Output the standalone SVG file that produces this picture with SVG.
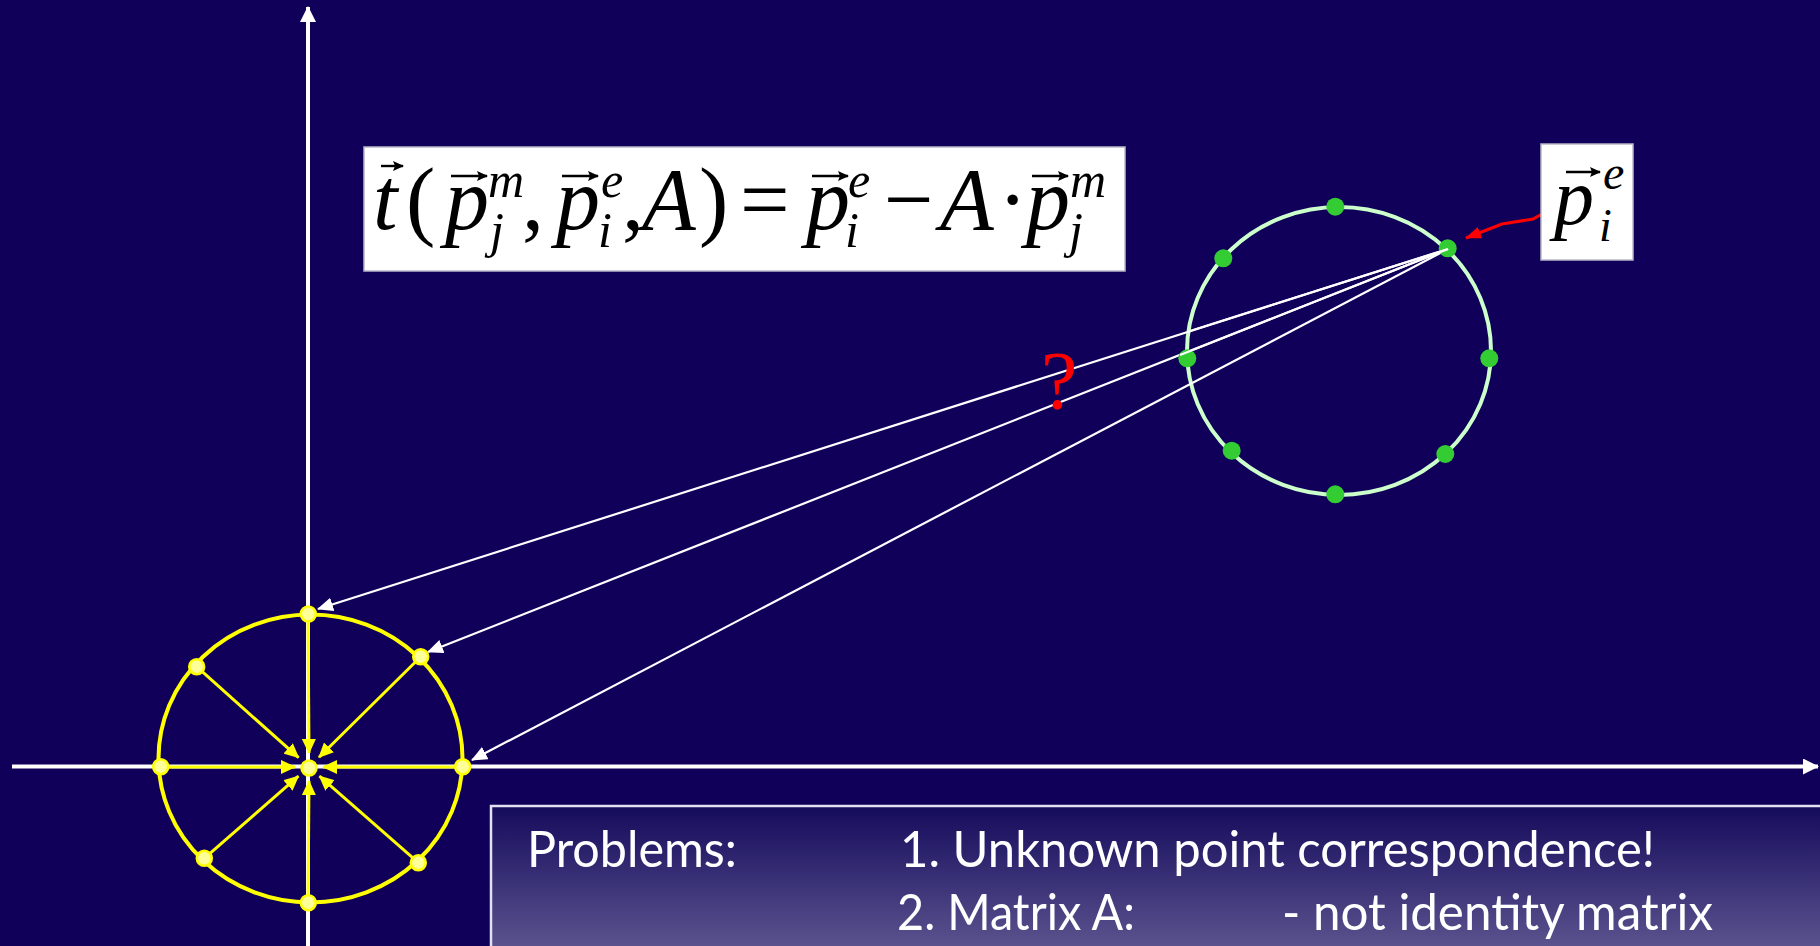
<svg xmlns="http://www.w3.org/2000/svg" width="1820" height="946" viewBox="0 0 1820 946">
<defs>
<style>
.axis{stroke:#ffffff;stroke-width:4;fill:none}
.wline{stroke:#ffffff;stroke-width:2.2;fill:none}
.yline{stroke:#ffff00;stroke-width:3;fill:none}
.ydot{fill:#ffff99;stroke:#ffff00;stroke-width:2.5}
.gdot{fill:#33cc33}
.math{font-family:"Liberation Serif","Times New Roman",serif;font-style:italic;fill:#000}
.up{font-style:normal}
.vec{stroke:#000;stroke-width:2.4;fill:none}
.prob{font-family:Lato,"Noto Sans",sans-serif;font-size:50px;fill:#ffffff}
</style>
<linearGradient id="boxgrad" x1="0" y1="0" x2="0" y2="1">
<stop offset="0" stop-color="#150b5c"/>
<stop offset="1" stop-color="#5c558f"/>
</linearGradient>
<marker id="axhead" viewBox="0 0 16 16" refX="15" refY="8" markerWidth="16" markerHeight="16" markerUnits="userSpaceOnUse" orient="auto">
<path d="M0,0 L16,8 L0,16 z" fill="#ffffff"/>
</marker>
<marker id="whead" viewBox="0 0 16 14" refX="15" refY="7" markerWidth="16" markerHeight="14" markerUnits="userSpaceOnUse" orient="auto">
<path d="M0,0 L16,7 L0,14 z" fill="#ffffff"/>
</marker>
<marker id="yhead" viewBox="0 0 15 14" refX="14" refY="7" markerWidth="15" markerHeight="14" markerUnits="userSpaceOnUse" orient="auto">
<path d="M0,0 L15,7 L0,14 z" fill="#ffff00"/>
</marker>
<marker id="rhead" viewBox="0 0 16 12" refX="15" refY="6" markerWidth="16" markerHeight="12" markerUnits="userSpaceOnUse" orient="auto">
<path d="M0,0 L16,6 L0,12 z" fill="#ff0000"/>
</marker>
<marker id="vhead" viewBox="0 0 11 10" refX="10" refY="5" markerWidth="11" markerHeight="10" markerUnits="userSpaceOnUse" orient="auto">
<path d="M0,0 L11,5 L0,10 L2,5 z" fill="#000"/>
</marker>
</defs>

<rect x="0" y="0" width="1820" height="946" fill="#10005a"/>

<g id="problems-box">
<rect x="491" y="806" width="1335" height="145" fill="url(#boxgrad)" stroke="#e0e0ee" stroke-width="2.5"/>
<text class="prob" x="527" y="867" textLength="210" lengthAdjust="spacingAndGlyphs">Problems:</text>
<text class="prob" x="900" y="867" textLength="755" lengthAdjust="spacingAndGlyphs">1. Unknown point correspondence!</text>
<text class="prob" x="897" y="930" textLength="238" lengthAdjust="spacingAndGlyphs">2. Matrix A:</text>
<text class="prob" x="1282" y="930" textLength="431" lengthAdjust="spacingAndGlyphs">- not identity matrix</text>
</g>

<g id="axes">
<line class="axis" x1="308" y1="946" x2="308" y2="7" marker-end="url(#axhead)"/>
<line class="axis" x1="12" y1="766.5" x2="1818" y2="766.5" marker-end="url(#axhead)"/>
</g>

<g id="model-circle">
<ellipse cx="1339" cy="351" rx="152" ry="144" fill="none" stroke="#ccffcc" stroke-width="4"/>
</g>

<g id="scene-circle">
<ellipse cx="310.5" cy="758.5" rx="152" ry="144" fill="none" stroke="#ffff00" stroke-width="4"/>
</g>

<g id="connectors">
<line class="wline" x1="1448" y1="249" x2="318" y2="609" marker-end="url(#whead)"/>
<line class="wline" x1="1448" y1="249" x2="428" y2="652" marker-end="url(#whead)"/>
<line class="wline" x1="1448" y1="249" x2="472" y2="760" marker-end="url(#whead)"/>
<line class="yline" x1="308" y1="614" x2="309" y2="753" marker-end="url(#yhead)"/>
<line class="yline" x1="308" y1="903" x2="309" y2="781" marker-end="url(#yhead)"/>
<line class="yline" x1="159" y1="767" x2="295" y2="767" marker-end="url(#yhead)"/>
<line class="yline" x1="462.5" y1="767" x2="323" y2="767" marker-end="url(#yhead)"/>
<line class="yline" x1="196.7" y1="666.7" x2="298.6" y2="757.7" marker-end="url(#yhead)"/>
<line class="yline" x1="420.7" y1="656.7" x2="319" y2="757.2" marker-end="url(#yhead)"/>
<line class="yline" x1="204.3" y1="858.3" x2="298.4" y2="776.2" marker-end="url(#yhead)"/>
<line class="yline" x1="418.3" y1="862.7" x2="319.5" y2="776.2" marker-end="url(#yhead)"/>
<polyline points="1551,209 1533,219 1502,224 1466,238" fill="none" stroke="#ff0000" stroke-width="3" marker-end="url(#rhead)"/>
</g>

<g id="model-points">
<circle class="gdot" cx="1335.3" cy="206.7" r="9"/>
<circle class="gdot" cx="1223.3" cy="258.3" r="9"/>
<circle class="gdot" cx="1447.7" cy="248.3" r="9"/>
<circle class="gdot" cx="1187.3" cy="358.3" r="9"/>
<circle class="gdot" cx="1489.3" cy="358.3" r="9"/>
<circle class="gdot" cx="1231.7" cy="450.7" r="9"/>
<circle class="gdot" cx="1445.3" cy="454" r="9"/>
<circle class="gdot" cx="1335.3" cy="494.3" r="9"/>
</g>

<g id="white-lines-over">
<line class="wline" x1="1448" y1="249" x2="1190" y2="331"/>
<line class="wline" x1="1448" y1="249" x2="1180" y2="355"/>
</g>

<g id="scene-points">
<circle class="ydot" cx="308.3" cy="614" r="7.5"/>
<circle class="ydot" cx="308.3" cy="902.7" r="7.5"/>
<circle class="ydot" cx="160.7" cy="766.7" r="7.5"/>
<circle class="ydot" cx="462.7" cy="766.7" r="7.5"/>
<circle class="ydot" cx="196.7" cy="666.7" r="7.5"/>
<circle class="ydot" cx="420.7" cy="656.7" r="7.5"/>
<circle class="ydot" cx="204.3" cy="858.3" r="7.5"/>
<circle class="ydot" cx="418.3" cy="862.7" r="7.5"/>
<circle class="ydot" cx="309" cy="768" r="7.5"/>
</g>

<g id="formula">
<rect x="364" y="147" width="761" height="124" fill="#ffffff" stroke="#b8b8c8" stroke-width="1.5"/>
<text class="math" font-size="88">
<tspan x="373" y="229">t</tspan>
<tspan class="up" x="406" y="229">(</tspan>
<tspan x="445" y="229">p</tspan>
<tspan x="488" y="197" font-size="50">m</tspan>
<tspan x="490" y="247" font-size="50">j</tspan>
<tspan x="522" y="229" class="up">,</tspan>
<tspan x="556" y="229">p</tspan>
<tspan x="601" y="197" font-size="50">e</tspan>
<tspan x="598" y="247" font-size="50">i</tspan>
<tspan x="622" y="229" class="up">,</tspan>
<tspan x="642" y="229">A</tspan>
<tspan class="up" x="699" y="229">)</tspan>
<tspan class="up" x="740" y="229">=</tspan>
<tspan x="806" y="229">p</tspan>
<tspan x="848" y="197" font-size="50">e</tspan>
<tspan x="845" y="247" font-size="50">i</tspan>
<tspan class="up" x="884" y="229">−</tspan>
<tspan x="940" y="229">A</tspan>
<tspan class="up" x="998" y="229">·</tspan>
<tspan x="1026" y="229">p</tspan>
<tspan x="1070" y="197" font-size="50">m</tspan>
<tspan x="1069" y="247" font-size="50">j</tspan>
</text>
<line class="vec" x1="381" y1="166" x2="403" y2="166" marker-end="url(#vhead)"/>
<line class="vec" x1="451" y1="176" x2="487" y2="176" marker-end="url(#vhead)"/>
<line class="vec" x1="562" y1="176" x2="598" y2="176" marker-end="url(#vhead)"/>
<line class="vec" x1="812" y1="176" x2="848" y2="176" marker-end="url(#vhead)"/>
<line class="vec" x1="1032" y1="176" x2="1068" y2="176" marker-end="url(#vhead)"/>
</g>

<g id="pie-label">
<rect x="1541" y="144" width="92" height="116" fill="#ffffff" stroke="#b8b8c8" stroke-width="1.5"/>
<text class="math" font-size="80"><tspan x="1554" y="224">p</tspan><tspan x="1603" y="189" font-size="48">e</tspan><tspan x="1599" y="241" font-size="46">i</tspan></text>
<line class="vec" x1="1566" y1="172" x2="1600" y2="172" marker-end="url(#vhead)"/>
</g>

<g id="question">
<text x="1041" y="408" font-family="Liberation Serif,serif" font-size="82" fill="#ff0000">?</text>
</g>
</svg>
